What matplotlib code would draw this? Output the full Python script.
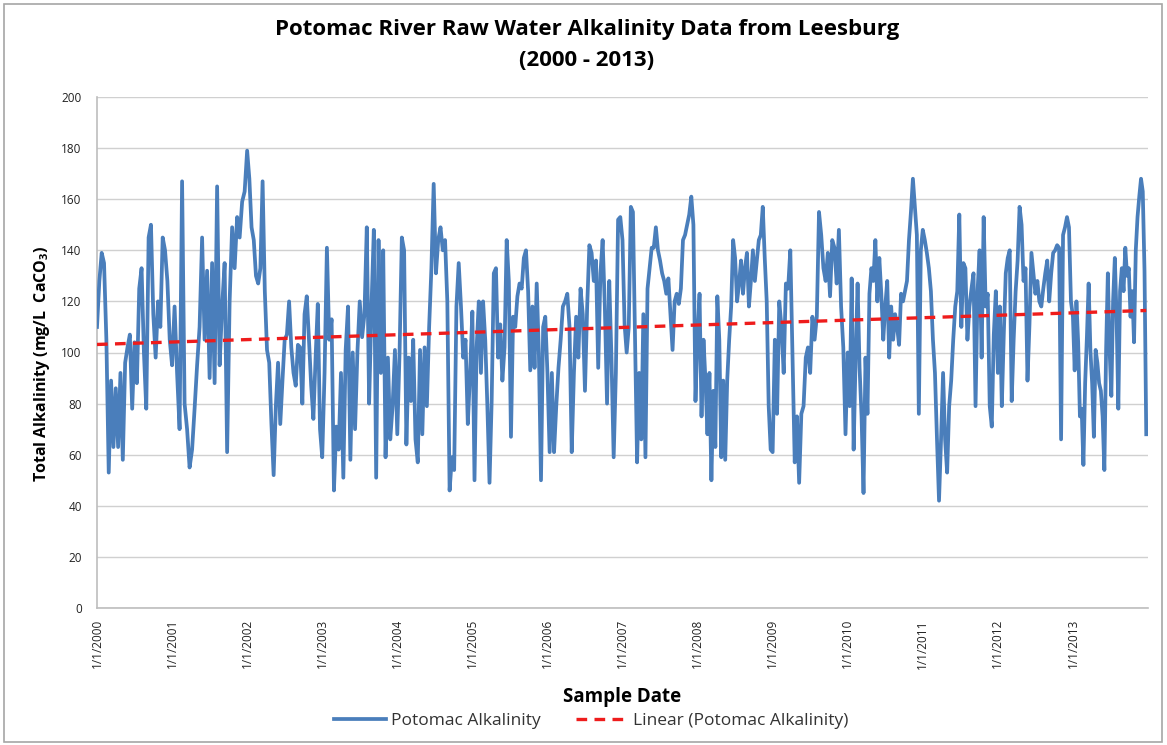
import numpy as np
import matplotlib
matplotlib.use("Agg")
import matplotlib.pyplot as plt
from matplotlib.patches import Rectangle

plt.rcParams['font.family'] = ['Open Sans', 'DejaVu Sans']
plt.rcParams['mathtext.fontset'] = 'custom'
plt.rcParams['mathtext.rm'] = 'Open Sans'
plt.rcParams['mathtext.bf'] = 'Open Sans:bold'

# ---- data (mg/L CaCO3), per calendar year ----
y2000 = [110, 128, 139, 135, 105, 53, 89, 63, 86, 63, 92, 58, 96, 102, 107, 78, 104, 88, 125, 133,
         100, 78, 145, 150, 115, 98, 120, 110, 145, 140, 128, 105]
y2001 = [95, 118, 92, 70, 167, 80, 70, 55, 62, 78, 95, 110, 145, 105, 132, 90, 135, 88, 165, 95,
         118, 135, 61, 120, 149, 133, 153, 145, 159, 163]
y2002 = [179, 168, 149, 144, 130, 127, 133, 167, 124, 101, 96, 72, 52, 79, 96, 72, 89, 105, 107, 120,
         102, 92, 87, 103, 102, 80, 115, 122, 105, 87, 74, 98, 119, 70]
y2003 = [59, 92, 141, 105, 113, 46, 71, 62, 92, 51, 101, 118, 58, 100, 70, 100, 120, 106, 115, 149,
         80, 118, 148, 51, 144, 92, 140, 59, 98, 66, 79, 101]
y2004 = [68, 100, 145, 140, 64, 98, 81, 105, 66, 57, 101, 68, 102, 79, 110, 133, 166, 131, 144, 149,
         140, 144, 120, 46, 59, 54, 118, 135, 118, 98, 105, 72, 92]
y2005 = [116, 50, 102, 120, 92, 120, 105, 79, 49, 81, 131, 133, 98, 111, 89, 102, 144, 128, 67, 114,
         110, 122, 127, 125, 137, 140, 124, 93, 118, 94, 127, 100, 50, 110, 114]
y2006 = [92, 61, 92, 61, 79, 94, 105, 118, 120, 123, 110, 61, 92, 114, 98, 125, 115, 85, 118, 142,
         139, 128, 136, 94, 131, 144, 118, 80, 128, 98, 59, 92, 152, 153]
y2007 = [144, 111, 100, 110, 157, 155, 105, 57, 92, 66, 115, 59, 125, 133, 141, 141, 149, 140, 136, 131,
         128, 123, 129, 115, 101, 120, 123, 119, 125, 144, 146, 150, 154, 161, 150, 81]
y2008 = [107, 123, 75, 105, 89, 68, 92, 50, 85, 63, 122, 105, 59, 89, 58, 89, 105, 118, 144, 137,
         120, 127, 136, 123, 133, 139, 118, 128, 140, 128, 136, 144, 146, 157, 137, 120, 79, 62]
y2009 = [61, 105, 76, 120, 110, 92, 127, 125, 140, 98, 57, 75, 49, 76, 79, 98, 102, 92, 114, 105,
         114, 155, 146, 133, 128, 139, 122, 144, 141, 127, 148, 118, 102, 68]
y2010 = [100, 79, 129, 62, 98, 127, 94, 75, 45, 98, 76, 123, 133, 128, 144, 120, 137, 123, 105, 118,
         128, 98, 118, 105, 115, 110, 103, 123, 120, 124, 128, 144, 155, 168, 157, 146, 76, 140]
y2011 = [148, 144, 139, 133, 124, 105, 92, 66, 42, 66, 92, 66, 53, 79, 89, 105, 118, 124, 154, 110,
         135, 133, 105, 118, 125, 131, 79, 124, 140, 98, 153, 118, 123, 79, 71, 107, 124]
y2012 = [92, 118, 79, 107, 131, 137, 140, 81, 105, 124, 136, 157, 150, 128, 133, 89, 111, 139, 131, 123,
         128, 120, 118, 125, 131, 136, 120, 131, 139, 140, 142, 141, 66, 146, 149, 153, 149, 120]
y2013 = [114, 93, 120, 104, 75, 78, 56, 88, 106, 127, 101, 88, 67, 101, 96, 88, 85, 75, 54, 101,
         131, 101, 83, 120, 137, 114, 78, 124, 133, 124, 141, 130, 133, 114, 124, 104, 140, 153, 161, 168,
         163, 132, 68]

years = list(range(2000, 2014))
yearly = [y2000, y2001, y2002, y2003, y2004, y2005, y2006, y2007, y2008, y2009, y2010, y2011, y2012, y2013]
tick_labels = ["1/1/%d" % yr for yr in years]

# sample dates as decimal years, spread through each calendar year
t = np.concatenate([yr + np.arange(len(v)) / len(v) for yr, v in zip(years, yearly)])
alk = np.concatenate([np.asarray(v, float) for v in yearly])

# linear trendline (least squares), as the spreadsheet does
slope, intercept = np.polyfit(t, alk, 1)
t_fit = np.array([t[0], t[-1]])
fit = slope * t_fit + intercept

# ---- figure ----
W, H = 1167, 745
fig = plt.figure(figsize=(W / 100, H / 100), dpi=100)
fig.patches.append(Rectangle((4 / W, 3 / H), 1 - 9 / W, 1 - 7 / H, transform=fig.transFigure,
                             fill=False, edgecolor='#a6a6a6', lw=1.2))

ax = fig.add_axes([97 / W, 1 - 608 / H, (1148 - 97) / W, (608 - 97) / H])
ax.plot(t, alk, color='#4a7ebb', lw=2.7, solid_joinstyle='round', label='Potomac Alkalinity', zorder=3)
ax.plot(t_fit, fit, color='#ee1c1c', lw=2.4, ls=(0, (3.2, 2.2)), label='Linear (Potomac Alkalinity)', zorder=4)

ax.set_xlim(2000.0, 2014.0)
ax.set_ylim(0, 200)
ax.set_yticks(range(0, 201, 20))
ax.set_xticks(years)
ax.set_xticklabels(tick_labels, rotation=90, va='top', ha='center')
ax.tick_params(axis='both', length=0, labelsize=8.5, colors='#222222')
ax.tick_params(axis='y', pad=11)
ax.tick_params(axis='x', pad=8)
ax.grid(axis='y', color='#d0d0d0', lw=1)
ax.set_axisbelow(True)
for s in ['top', 'right']:
    ax.spines[s].set_visible(False)
for s in ['left', 'bottom']:
    ax.spines[s].set_color('#bdbdbd')
    ax.spines[s].set_linewidth(1.2)

fig.text(42 / W, 1 - 364 / H, r'Total Alkalinity (mg/L  CaCO$_\mathbf{3}$)', rotation=90,
         ha='center', va='center', fontsize=11.5, fontweight='bold')
fig.text(622 / W, 1 - 697 / H, 'Sample Date', ha='center', va='center', fontsize=13.5, fontweight='bold')
fig.text(587 / W, 1 - 30 / H, 'Potomac River Raw Water Alkalinity Data from Leesburg',
         ha='center', va='center', fontsize=16, fontweight='bold')
fig.text(587 / W, 1 - 60 / H, '(2000 - 2013)', ha='center', va='center', fontsize=16, fontweight='bold')

leg = fig.legend(loc='center', bbox_to_anchor=(591 / W, 1 - 721 / H), ncol=2, frameon=False,
                 fontsize=12.5, handlelength=3.0, columnspacing=2.0, handletextpad=0.3)
for txt in leg.get_texts():
    txt.set_color('#333333')

fig.savefig('out.png', dpi=100)
